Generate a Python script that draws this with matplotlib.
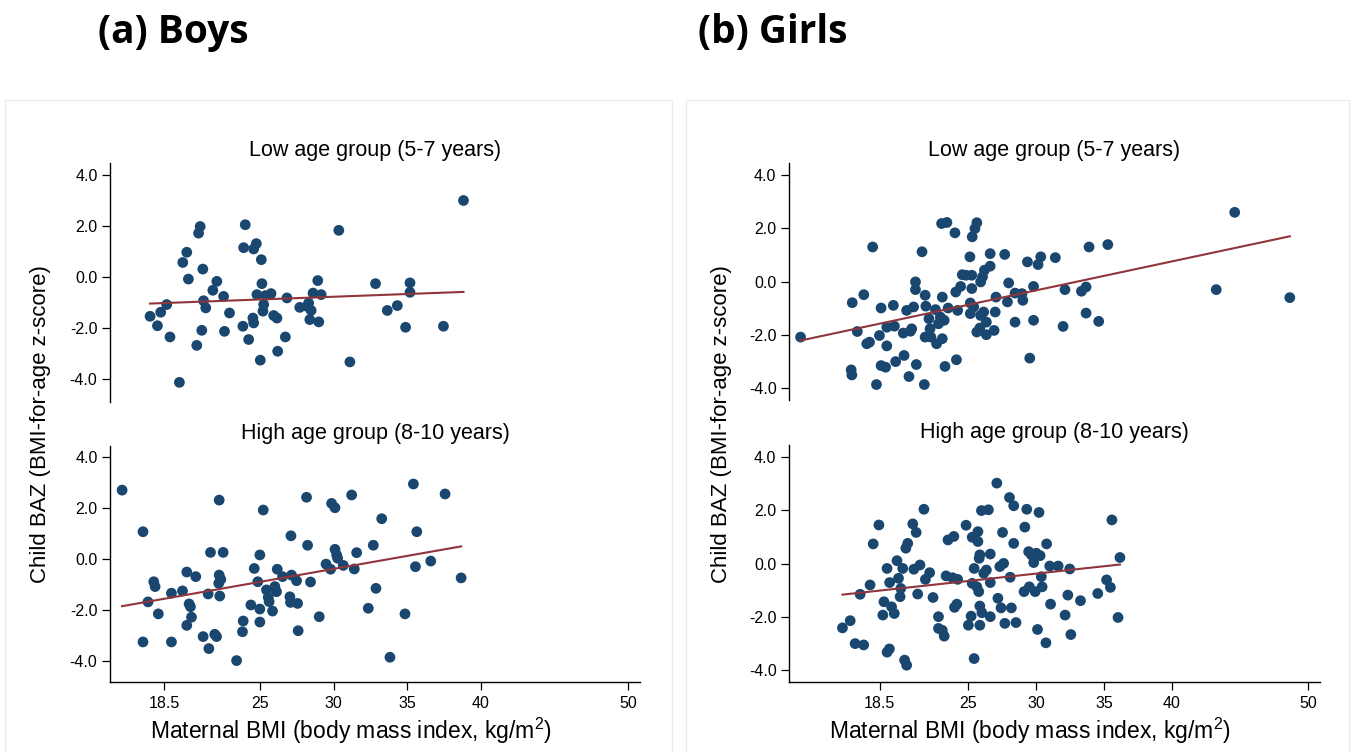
import numpy as np
import matplotlib
matplotlib.use("Agg")
import matplotlib.pyplot as plt
from matplotlib.patches import Rectangle

plt.rcParams['font.family'] = ['Liberation Sans', 'DejaVu Sans']
plt.rcParams['mathtext.fontset'] = 'custom'
plt.rcParams['mathtext.rm'] = 'Liberation Sans'
plt.rcParams['mathtext.it'] = 'Liberation Sans:italic'
plt.rcParams['mathtext.bf'] = 'Liberation Sans:bold'

# ---------------- data ----------------
boys_low_bmi = [17.55, 18.05, 18.27, 18.68, 18.9, 19.54, 19.77, 20.04, 20.15, 20.72,
                20.84, 20.95, 21.06, 21.13, 21.18, 21.33, 21.81, 22.08, 22.54, 22.6,
                22.94, 23.85, 23.9, 24.01, 24.24, 24.53, 24.58, 24.58, 24.76, 24.8,
                25.03, 25.1, 25.14, 25.21, 25.26, 25.37, 25.76, 25.94, 26.16, 26.21,
                26.73, 26.84, 27.71, 28.2, 28.31, 28.39, 28.48, 28.61, 28.93, 29.0,
                29.16, 30.36, 31.11, 32.85, 33.65, 34.33, 34.89, 35.19, 35.19, 37.46,
                38.82]
boys_low_baz = [-1.54, -1.91, -1.38, -1.08, -2.35, -4.13, 0.57, 0.97, -0.08, -2.68,
                1.72, 1.98, -2.09, 0.31, -0.93, -1.21, -0.52, -0.17, -0.76, -2.13,
                -1.41, -1.93, 1.15, 2.05, -2.45, -1.61, -1.8, 1.1, 1.31, -0.69,
                -3.26, 0.68, -0.26, -1.34, -1.08, -0.73, -0.65, -1.51, -1.61, -2.91,
                -2.35, -0.82, -1.19, -1.15, -1.02, -1.67, -1.31, -0.63, -0.14, -1.76,
                -0.69, 1.83, -3.33, -0.26, -1.31, -1.12, -1.97, -0.23, -0.6, -1.93,
                3.0]

boys_high_bmi = [15.65, 17.07, 17.07, 17.41, 17.8, 17.89, 18.11, 19.0, 19.0, 19.75,
                 20.04, 20.04, 20.2, 20.29, 20.36, 20.65, 21.15, 21.49, 21.54, 21.65,
                 21.94, 22.06, 22.21, 22.24, 22.24, 22.28, 22.35, 22.51, 23.42, 23.82,
                 23.87, 24.39, 24.62, 24.86, 25.0, 25.0, 25.0, 25.23, 25.45, 25.57,
                 25.63, 25.86, 26.02, 26.13, 26.18, 26.54, 27.04, 27.08, 27.11, 27.15,
                 27.49, 27.56, 27.6, 28.17, 28.24, 28.44, 29.03, 29.49, 29.8, 29.87,
                 30.1, 30.1, 30.21, 30.28, 30.66, 31.23, 31.41, 31.57, 32.36, 32.7,
                 32.88, 33.27, 33.83, 34.85, 35.42, 35.56, 35.65, 36.6, 37.57, 38.66]
boys_high_baz = [2.70, 1.07, -3.25, -1.68, -0.89, -1.08, -2.15, -1.34, -3.25, -1.25,
                 -0.51, -2.6, -1.76, -1.87, -2.28, -0.69, -3.04, -1.37, -3.51, 0.26,
                 -2.95, -3.04, -0.95, 2.31, -0.63, -1.45, -0.8, 0.26, -3.98, -2.85,
                 -2.43, -1.8, -0.37, -0.89, 0.16, -1.96, -2.47, 1.92, -1.21, -1.5,
                 -1.67, -2.04, -1.08, -1.28, -0.4, -0.69, -1.48, -1.7, 0.91, -0.63,
                 -0.85, -1.74, -2.81, 2.42, 0.54, -0.9, -2.26, -0.2, -0.4, 2.18,
                 2.01, 0.38, 0.16, 0.03, -0.25, 2.51, -0.39, 0.25, -1.93, 0.54,
                 -1.15, 1.58, -3.85, -2.15, 2.94, -0.3, 1.07, -0.08, 2.55, -0.74]

girls_low_bmi = [12.69, 16.49, 16.41, 16.46, 16.86, 17.34, 17.56, 17.76, 17.99, 18.27,
                 18.49, 18.61, 18.61, 18.94, 19.03, 19.03, 19.51, 19.59, 19.68, 20.24,
                 20.3, 20.49, 20.66, 20.77, 20.86, 21.0, 21.14, 21.14, 21.2, 21.62,
                 21.79, 21.85, 21.9, 21.85, 22.13, 22.21, 22.27, 22.61, 22.69, 22.83,
                 22.97, 23.06, 23.11, 23.11, 23.25, 23.31, 23.45, 23.54, 24.04, 24.1,
                 24.15, 24.24, 24.46, 24.58, 24.86, 25.14, 25.17, 25.17, 25.28, 25.28,
                 25.31, 25.51, 25.65, 25.42, 25.65, 25.87, 25.93, 25.93, 26.07, 26.15,
                 26.21, 26.35, 26.35, 26.63, 26.63, 26.92, 27.0, 27.06, 27.7, 27.9,
                 27.99, 28.46, 28.46, 28.97, 29.03, 29.37, 29.54, 29.82, 29.82, 30.15,
                 30.35, 31.42, 31.99, 32.13, 33.34, 33.68, 33.68, 33.9, 34.61, 35.28,
                 43.25, 44.61, 48.66]
girls_low_baz = [-2.08, -0.79, -3.31, -3.5, -1.87, -0.49, -2.33, -2.27, 1.3, -3.86,
                 -2.02, -0.99, -3.15, -3.21, -2.41, -1.71, -0.89, -1.67, -3.0, -1.93,
                 -2.77, -1.08, -3.56, -1.86, -1.77, -0.95, -0.01, -0.3, -3.11, 1.12,
                 -3.86, -0.51, -0.92, -2.08, -1.39, -1.77, -2.08, -1.05, -2.33, -1.58,
                 -1.33, 2.18, -0.58, -2.14, -1.45, -3.18, 2.22, -0.99, 1.83, -0.39,
                 -2.93, -1.08, -0.18, 0.26, 0.24, 0.93, -0.8, -1.2, -0.26, 0.24,
                 1.68, 1.99, 2.21, -0.95, -1.89, -1.74, -0.01, -1.27, 0.18, -1.14,
                 0.43, -1.52, -1.99, 1.05, 0.58, -1.83, -1.14, -0.58, 1.02, -0.76,
                 -0.05, -1.52, -0.43, -0.45, -0.7, 0.74, -2.87, -0.18, -1.45, 0.64,
                 0.93, 0.9, -1.68, -0.3, -0.36, -0.2, -1.18, 1.3, -1.49, 1.39,
                 -0.3, 2.6, -0.6]

girls_high_bmi = [15.77, 16.34, 16.7, 17.07, 17.33, 17.8, 18.03, 18.45, 18.82, 18.74,
                  19.05, 19.05, 19.22, 19.24, 19.38, 19.58, 19.78, 19.89, 20.01, 20.06,
                  20.2, 20.34, 20.43, 20.49, 20.57, 20.94, 21.02, 21.19, 21.3, 21.47,
                  21.76, 21.87, 22.18, 22.43, 22.83, 22.83, 23.11, 23.25, 23.39, 23.53,
                  23.96, 23.87, 24.01, 24.18, 24.24, 24.86, 25.03, 25.23, 25.31, 25.31,
                  25.45, 25.45, 25.65, 25.73, 25.73, 25.79, 25.82, 25.87, 25.87, 25.87,
                  25.99, 26.02, 26.16, 26.35, 26.5, 26.64, 26.64, 26.64, 27.12, 27.2,
                  27.34, 27.43, 27.54, 27.62, 27.71, 28.05, 28.1, 28.19, 28.36, 28.36,
                  28.53, 29.12, 29.18, 29.32, 29.46, 29.51, 29.66, 29.83, 29.94, 30.02,
                  30.11, 30.22, 30.3, 30.39, 30.45, 30.73, 30.78, 31.01, 31.07, 31.63,
                  32.14, 32.34, 32.48, 32.56, 33.27, 34.54, 35.19, 35.47, 35.58, 36.03,
                  36.17]
girls_high_baz = [-2.41, -2.14, -3.0, -1.15, -3.05, -0.8, 0.74, 1.45, -1.43, -1.93,
                  -0.18, -3.32, -3.2, -0.71, -1.62, -1.87, 0.11, -0.55, -1.24, -0.93,
                  -0.18, -3.62, 0.58, -3.81, 0.76, 1.49, -0.21, 1.17, -1.14, -0.05,
                  2.04, -0.59, -0.34, -1.27, -1.99, -2.43, -2.5, -2.72, -0.46, 0.89,
                  1.02, -0.53, -1.64, -1.52, -0.59, 1.44, -2.31, -1.97, 0.99, -0.74,
                  -3.56, -0.18, -0.87, 0.83, 1.2, -1.05, 0.2, -2.31, -1.59, 0.33,
                  1.99, -1.84, -0.36, -0.24, 2.02, 0.36, -0.71, -1.99, 3.02, -1.3,
                  -0.11, -1.66, 1.17, 0.01, -2.24, 2.48, -0.51, -1.66, 2.17, 0.76,
                  -2.21, -1.05, 1.37, 2.04, 0.45, -0.87, 0.33, 0.04, -1.05, 0.39,
                  -2.47, 1.92, 0.3, -0.49, -0.87, -2.97, 0.74, -0.09, -1.52, -0.09,
                  -1.93, -1.18, -0.2, -2.66, -1.39, -1.12, -0.61, -0.89, 1.64, -2.02,
                  0.23]

x_ticks = [18.5, 25, 30, 35, 40, 50]
x_ticklabels = ["18.5", "25", "30", "35", "40", "50"]
y_ticks = [4, 2, 0, -2, -4]
y_ticklabels = ["4.0", "2.0", "0.0", "-2.0", "-4.0"]

panel_titles = ["(a) Boys", "(b) Girls"]
group_titles = ["Low age group (5-7 years)", "High age group (8-10 years)"]
xlabel = r"Maternal BMI (body mass index, kg/m$^{2}$)"
ylabel = "Child BAZ (BMI-for-age z-score)"

# ---------------- figure ----------------
W, H = 1352, 753
fig = plt.figure(figsize=(W / 100, H / 100), dpi=100)
fig.patch.set_facecolor("white")

def rect(l, t, r, b):
    return [l / W, 1 - b / H, (r - l) / W, (b - t) / H]

# light frames around each half
for (l, r) in [(5, 672), (686, 1349)]:
    fig.patches.append(Rectangle((l / W, -0.01), (r - l) / W, 1 - 100 / H + 0.01,
                                 transform=fig.transFigure, facecolor="none",
                                 edgecolor="#ececec", linewidth=1.0, zorder=-5))

NAVY = "#1a476f"
MAROON = "#90353b"

panels = [
    (boys_low_bmi, boys_low_baz, rect(110, 163, 640, 402), (14.83, 50.8), (-4.90, 4.47), False, group_titles[0]),
    (boys_high_bmi, boys_high_baz, rect(110, 446, 640, 682), (14.83, 50.8), (-4.82, 4.43), True, group_titles[1]),
    (girls_low_bmi, girls_low_baz, rect(789, 163, 1320, 400), (11.84, 50.88), (-4.44, 4.45), False, group_titles[0]),
    (girls_high_bmi, girls_high_baz, rect(789, 445, 1320, 682), (11.84, 50.88), (-4.44, 4.45), True, group_titles[1]),
]

for bmi, baz, r, xl, yl, show_x, ttl in panels:
    ax = fig.add_axes(r)
    ax.set_facecolor("none")
    x = np.array(bmi)
    y = np.array(baz)
    ax.scatter(x, y, s=60, color=NAVY, edgecolors="none", zorder=2)
    k, c = np.polyfit(x, y, 1)
    xs = np.array([x.min(), x.max()])
    ax.plot(xs, k * xs + c, color=MAROON, lw=1.5, zorder=3)
    ax.set_xlim(*xl)
    ax.set_ylim(*yl)
    for s in ["top", "right"]:
        ax.spines[s].set_visible(False)
    ax.spines["left"].set_linewidth(1.0)
    ax.spines["bottom"].set_linewidth(1.0)
    ax.set_yticks(y_ticks)
    ax.set_yticklabels(y_ticklabels)
    ax.tick_params(axis="y", length=6, width=0.9, pad=3, labelsize=11.5)
    if show_x:
        ax.set_xticks(x_ticks)
        ax.set_xticklabels(x_ticklabels)
        ax.tick_params(axis="x", length=6, width=0.9, pad=4, labelsize=11.5)
    else:
        ax.spines["bottom"].set_visible(False)
        ax.set_xticks([])
    ax.set_title(ttl, fontsize=15.5, pad=5)

# axis labels
for xc in [351, 1030]:
    fig.text(xc / W, 1 - 731 / H, xlabel, ha="center", va="center", fontsize=16.5)
for xc in [41, 721]:
    fig.text(xc / W, 1 - 424 / H, ylabel, ha="center", va="center", rotation=90, fontsize=16)

# big panel titles
for xl_, t in zip([98, 698], panel_titles):
    fig.text(xl_ / W, 1 - 43 / H, t, ha="left", va="baseline", fontsize=28,
             fontweight="bold", family=["Open Sans", "DejaVu Sans"])

fig.savefig("out.png", dpi=100, facecolor="white")
